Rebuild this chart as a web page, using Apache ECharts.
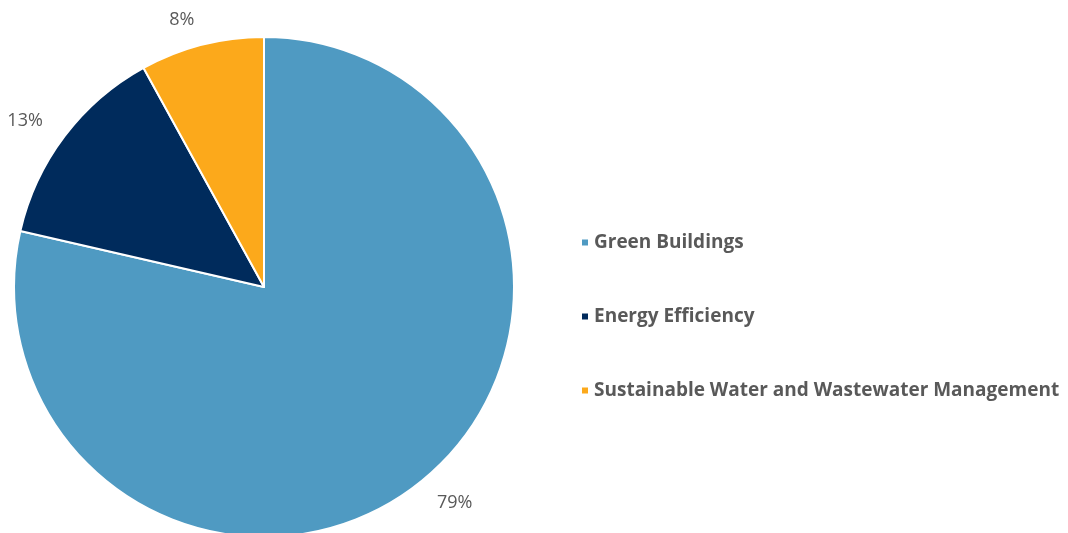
<!DOCTYPE html>
<html><head><meta charset="utf-8">
<script src="https://cdn.jsdelivr.net/npm/echarts@6/dist/echarts.min.js"></script>
<style>html,body{margin:0;padding:0;background:#fff}#c{width:1068px;height:533px}</style>
</head><body><div id="c"></div>
<script>
const categories = ['Green Buildings', 'Energy Efficiency', 'Sustainable Water and Wastewater Management'];
const values = [78.6, 13.4, 8.0];
const colors = ['#4F9AC2', '#002B5C', '#FCA91B'];

const chart = echarts.init(document.getElementById('c'));
chart.setOption({
  animation: false,
  legend: {
    orient: 'vertical',
    left: 575, top: 228,
    itemWidth: 8, itemHeight: 8, itemGap: 55,
    icon: 'rect',
    textStyle: { fontFamily: 'Open Sans', fontWeight: 'bold', fontSize: 19, color: '#595959', padding: [0,0,0,0] },
    data: categories
  },
  series: [{
    type: 'pie',
    center: [264, 287], radius: 250,
    startAngle: 90, clockwise: true,
    avoidLabelOverlap: false,
    itemStyle: { borderColor: '#fff', borderWidth: 2 },
    label: { show: true, position: 'outside', formatter: p => Math.round(p.percent) + '%', fontFamily: 'Open Sans', fontSize: 18, color: '#595959', distanceToLabelLine: 1 },
    labelLine: { show: false, length: 26, length2: 0 },
    data: categories.map((n, i) => ({ name: n, value: values[i], itemStyle: { color: colors[i] } }))
  }]
});
</script></body></html>
